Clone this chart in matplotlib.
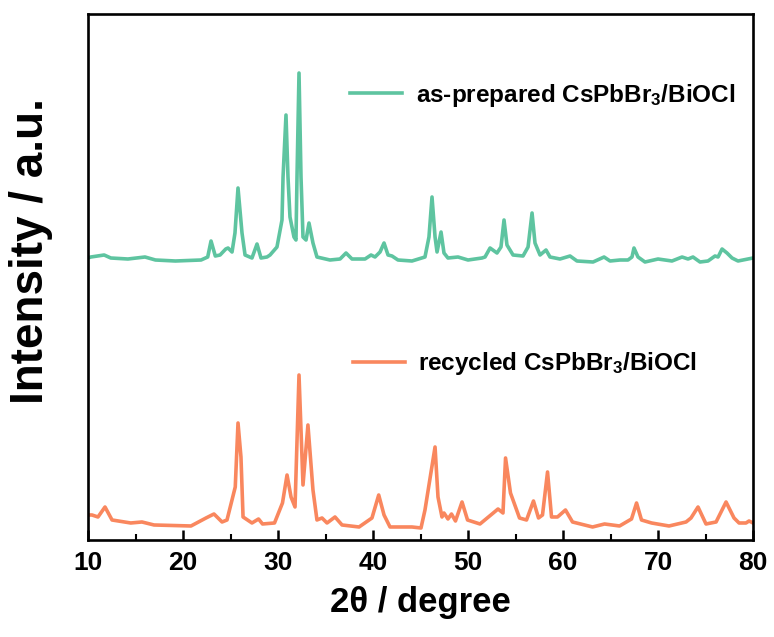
import numpy as np
import matplotlib
matplotlib.use("Agg")
import matplotlib.pyplot as plt

# -----------------------------
# XRD data (2theta, arbitrary intensity)
# -----------------------------
fresh_2theta = [10.0, 10.3, 11.7, 12.4, 14.2, 16.0, 17.1, 19.2, 21.9, 22.6, 22.95, 23.4,
                23.9, 24.5, 24.74, 25.16, 25.47, 25.79, 26.21, 26.53, 27.26, 27.79, 28.21,
                28.84, 29.16, 29.89, 30.42, 30.53, 30.84, 31.05, 31.26, 31.68, 31.89, 32.0,
                32.21, 32.42, 32.63, 32.95, 33.26, 33.68, 34.1, 35.47, 36.53, 37.16, 37.79,
                39.16, 39.79, 40.21, 40.74, 41.16, 41.58, 42.0, 42.63, 44.1, 45.47, 45.89,
                46.21, 46.53, 46.74, 47.16, 47.47, 47.89, 48.95, 50.0, 51.47, 51.79, 52.32,
                53.05, 53.47, 53.79, 54.1, 54.74, 55.79, 56.32, 56.74, 57.05, 57.58, 58.21,
                58.63, 59.68, 60.74, 61.47, 63.16, 64.32, 64.95, 66.0, 66.84, 67.26, 67.47,
                67.89, 68.63, 70.0, 71.47, 72.53, 73.16, 73.68, 74.42, 75.26, 76.0, 76.32,
                76.74, 77.26, 77.79, 78.42, 79.47, 80.0]
fresh_int = [282, 283, 285, 282, 281, 283, 280, 279, 280, 283, 299, 284,
             285, 291, 292, 288, 307, 352, 307, 285, 282, 296, 282,
             283, 285, 293, 320, 363, 425, 363, 323, 303, 300, 363,
             467, 363, 303, 300, 317, 297, 283, 280, 281, 287, 281,
             281, 285, 283, 288, 297, 285, 284, 280, 279, 283, 303,
             343, 303, 288, 308, 287, 282, 283, 280, 282, 283, 292,
             287, 293, 320, 295, 285, 284, 293, 327, 297, 285, 290,
             283, 281, 284, 279, 278, 283, 279, 280, 280, 283, 292,
             283, 278, 281, 279, 283, 281, 283, 278, 279, 284, 283,
             291, 287, 282, 279, 281, 282]

recyc_2theta = [10.0, 10.42, 11.05, 11.79, 12.53, 14.5, 15.68, 16.95, 20.84, 22.42, 23.26,
                24.11, 24.63, 25.5, 25.79, 26.1, 26.32, 27.26, 27.95, 28.37, 29.63, 30.47,
                30.95, 31.37, 31.79, 32.21, 32.63, 33.15, 33.68, 34.1, 34.63, 35.16, 36.0,
                36.74, 38.53, 39.89, 40.6, 41.16, 41.79, 44.1, 45.05, 45.47, 46.53, 46.84,
                47.26, 47.47, 47.89, 48.26, 48.68, 49.37, 49.95, 51.26, 52.53, 53.16, 53.68,
                53.95, 54.47, 55.42, 56.16, 56.89, 57.42, 57.84, 58.37, 58.79, 59.42, 60.26,
                61.0, 63.11, 64.37, 65.95, 67.21, 67.74, 68.26, 69.32, 71.16, 72.95, 73.47,
                74.21, 75.05, 76.11, 77.16, 78.0, 78.53, 79.26, 79.58, 80.0]
recyc_int = [25, 25, 23, 33, 20, 17, 18, 15, 14, 22, 26,
             18, 20, 53, 117, 83, 23, 17, 21, 16, 17, 37,
             65, 43, 33, 165, 55, 115, 50, 20, 22, 17, 23,
             15, 13, 22, 45, 25, 13, 13, 12, 30, 93, 43,
             23, 27, 21, 26, 19, 38, 20, 16, 26, 31, 27,
             82, 47, 22, 20, 39, 22, 25, 68, 23, 23, 30,
             18, 13, 16, 14, 21, 37, 20, 17, 14, 18, 22,
             33, 16, 18, 38, 22, 17, 17, 19, 17]

labels = [r"as-prepared CsPbBr$_3$/BiOCl", r"recycled CsPbBr$_3$/BiOCl"]
colors = ["#5ec4a0", "#f9875e"]

# -----------------------------
# Style
# -----------------------------
plt.rcParams["font.family"] = ["Liberation Sans", "DejaVu Sans"]
plt.rcParams["font.weight"] = "bold"
plt.rcParams["mathtext.fontset"] = "custom"
plt.rcParams["mathtext.rm"] = "Liberation Sans:bold"
plt.rcParams["mathtext.it"] = "Liberation Sans:bold"
plt.rcParams["mathtext.bf"] = "Liberation Sans:bold"
plt.rcParams["mathtext.default"] = "rm"

fig = plt.figure(figsize=(7.74, 6.37), dpi=100)
ax = fig.add_axes([0.1137, 0.1523, 0.8592, 0.8257])

l1, = ax.plot(fresh_2theta, fresh_int, color=colors[0], lw=2.6, solid_joinstyle="round")
l2, = ax.plot(recyc_2theta, recyc_int, color=colors[1], lw=2.6, solid_joinstyle="round")

ax.set_xlim(10, 80)
ax.set_ylim(0, 526)
ax.set_xticks(np.arange(10, 81, 10))
ax.set_xticks(np.arange(15, 80, 10), minor=True)
ax.set_yticks([])
ax.tick_params(axis="x", which="major", direction="in", length=7, width=1.8,
               labelsize=19, pad=8)
ax.tick_params(axis="x", which="minor", direction="in", length=4, width=1.5)
for lab in ax.get_xticklabels():
    lab.set_fontweight("bold")
for sp in ax.spines.values():
    sp.set_linewidth(1.9)

ax.set_xlabel("2θ / degree", fontsize=25, fontweight="bold", labelpad=8)
ax.set_ylabel("Intensity / a.u.", fontsize=33, fontweight="bold")
ax.yaxis.set_label_coords(-0.052, 0.55)

leg1 = ax.legend([l1], [labels[0]], loc="center left", bbox_to_anchor=(0.394, 0.846),
                 frameon=False, fontsize=17.5, handlelength=2.15, handletextpad=0.55,
                 borderpad=0, borderaxespad=0)
ax.add_artist(leg1)
ax.legend([l2], [labels[1]], loc="center left", bbox_to_anchor=(0.398, 0.335),
          frameon=False, fontsize=17.5, handlelength=2.15, handletextpad=0.55,
          borderpad=0, borderaxespad=0)

fig.savefig("out.png", dpi=100)
